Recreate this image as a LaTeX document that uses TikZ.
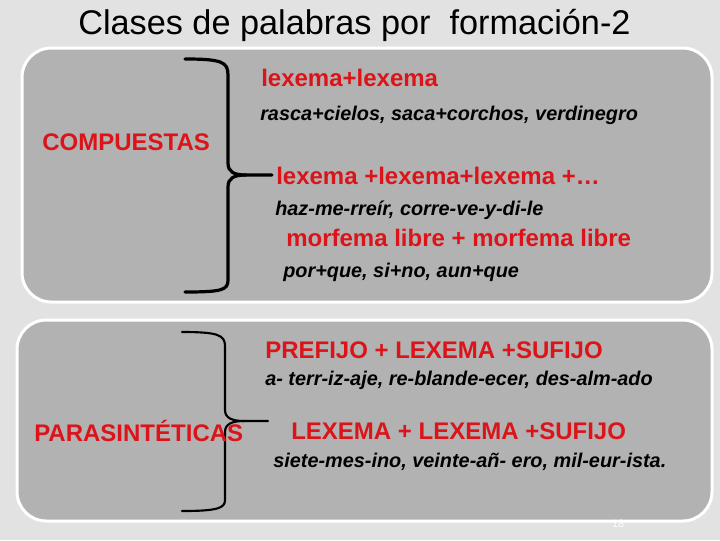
\documentclass[tikz,border=0pt]{standalone}
\usepackage{fontspec}
\setmainfont{Liberation Sans}
\usepackage{tikz}
\usetikzlibrary{positioning}
\usepackage{xcolor}
\definecolor{slidegray}{RGB}{226, 226, 226}
\definecolor{panelgray}{RGB}{178, 178, 178}
\definecolor{mainred}{RGB}{220, 20, 25}

\tikzset{
    panel/.style={fill=panelgray, draw=white, line width=2.25pt, rounded corners=22pt},
    redtext/.style={anchor=west, inner sep=0pt, text=mainred, font=\fontsize{18}{20}\selectfont\bfseries},
    example/.style={anchor=west, inner sep=0pt, text=black, font=\fontsize{14.9}{16}\selectfont\bfseries\itshape},
}

\begin{document}
\begin{tikzpicture}[x=0.75pt, y=-0.75pt, line cap=round]
    \useasboundingbox (0,0) rectangle (720,540);
    \fill[slidegray] (0,0) rectangle (720,540);
    \node[anchor=west, inner sep=0pt, font=\fontsize{25.7}{28}\selectfont] (title) at (78,25) {Clases de palabras por\ \ formación-2};

    % paneles
    \draw[panel] (22,48) rectangle (712,302);
    \draw[panel] (17,320) rectangle (712,521);
    \node[text=white, font=\fontsize{8}{9}\selectfont, inner sep=0pt] (pagenum) at (618,524) {18};

    % compuestas
    \node[redtext] (comp) at (42,142) {COMPUESTAS};
    \draw[line width=2.4pt] (185,59) .. controls (222,59) and (228,62) .. (228,75) -- (228,163)
        .. controls (228,172) and (234,175) .. (246,175) -- (272,175);
    \draw[line width=2.4pt] (246,175) .. controls (234,175) and (228,178) .. (228,187) -- (228,280)
        .. controls (228,290) and (222,292) .. (185,292);
    \node[redtext] (lexA) at (261,78) {lexema+lexema};
    \node[example] (exA) at (260,115) {rasca+cielos, saca+corchos, verdinegro};
    \node[redtext] (lexB) at (276,176) {lexema +lexema+lexema +…};
    \node[example] (exB) at (275,210) {haz-me-rreír, corre-ve-y-di-le};
    \node[redtext] (morf) at (286,238) {morfema libre + morfema libre};
    \node[example] (exC) at (283,272) {por+que, si+no, aun+que};

    % parasintéticas
    \draw[line width=1.6pt] (182,332) .. controls (218,332) and (225,335) .. (225,346) -- (225,410)
        .. controls (225,418) and (232,421) .. (244,421) -- (268,421);
    \draw[line width=1.6pt] (244,421) .. controls (232,421) and (225,424) .. (225,432) -- (225,500)
        .. controls (225,508) and (218,511) .. (182,511);
    \node[redtext] (para) at (34,431) {PARASINTÉTICAS};
    \node[redtext] (pref) at (265,350) {PREFIJO + LEXEMA +SUFIJO};
    \node[example] (exD) at (265,380) {a- terr-iz-aje, re-blande-ecer, des-alm-ado};
    \node[redtext] (lexC) at (291,431) {LEXEMA + LEXEMA +SUFIJO};
    \node[example] (exE) at (273,462) {siete-mes-ino, veinte-añ- ero, mil-eur-ista.};
\end{tikzpicture}
\end{document}
